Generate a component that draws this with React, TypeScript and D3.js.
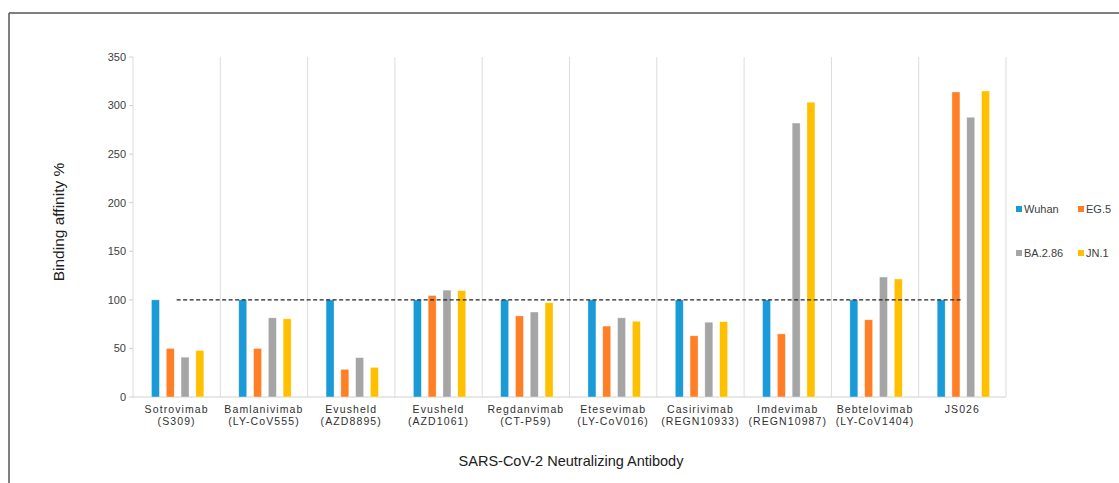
import React from "react";
import * as d3 from "d3";

const categories = [
  ["Sotrovimab", "(S309)"],
  ["Bamlanivimab", "(LY-CoV555)"],
  ["Evusheld", "(AZD8895)"],
  ["Evusheld", "(AZD1061)"],
  ["Regdanvimab", "(CT-P59)"],
  ["Etesevimab", "(LY-CoV016)"],
  ["Casirivimab", "(REGN10933)"],
  ["Imdevimab", "(REGN10987)"],
  ["Bebtelovimab", "(LY-CoV1404)"],
  ["JS026", ""],
];
const seriesNames = ["Wuhan", "EG.5", "BA.2.86", "JN.1"];
const seriesColors = ["#1a9bd7", "#ff7f27", "#a5a5a5", "#ffc000"];
const wuhan = [100, 100, 100, 100, 100, 100, 100, 100, 100, 100];
const eg5 = [50, 50, 28.5, 104.5, 83.5, 73, 63, 65, 79.5, 314];
const ba286 = [41, 81.5, 40.5, 110, 87.5, 81.5, 77, 282, 123.5, 288];
const jn1 = [48, 80.5, 30.5, 109.5, 97, 78, 77.5, 303.5, 121.5, 315];
const yTicks = [0, 50, 100, 150, 200, 250, 300, 350];
const referenceValue = 100;

const W = 1119;
const H = 483;
const left = 133;
const right = 1006;
const top = 57;
const bottom = 397;

export default function App() {
  const series = [wuhan, eg5, ba286, jn1];
  const x = d3.scaleBand<number>().domain(d3.range(categories.length)).range([left, right]).padding(0);
  const inner = d3.scaleBand<number>().domain(d3.range(4)).range([1, x.bandwidth() + 1]).paddingInner(0.46).paddingOuter(1.18);
  const y = d3.scaleLinear().domain([0, 350]).range([bottom, top]);
  const font = "'Liberation Sans', Arial, sans-serif";
  const firstC = x(0)! + x.bandwidth() / 2;
  const lastC = x(categories.length - 1)! + x.bandwidth() / 2;
  return (
    <div style={{ position: "absolute", left: 0, top: 0 }}>
      <svg width={W} height={H} style={{ display: "block", fontFamily: font }}>
        <rect x={0} y={0} width={W} height={H} fill="#fff" />
        <line x1={9} y1={13} x2={W} y2={13} stroke="#555" strokeWidth={1.5} />
        <line x1={9} y1={13} x2={9} y2={H} stroke="#555" strokeWidth={1.5} />
        {d3.range(categories.length + 1).map((i) => {
          const xx = i < categories.length ? x(i)! : right;
          return <line key={i} x1={xx} x2={xx} y1={top} y2={bottom} stroke="#dcdcdc" strokeWidth={1} />;
        })}
        <line x1={left} x2={right} y1={bottom} y2={bottom} stroke="#d0d0d0" />
        {yTicks.map((t) => (
          <g key={t}>
            <line x1={left - 4} x2={left} y1={y(t)} y2={y(t)} stroke="#d0d0d0" />
            <text x={left - 7} y={y(t)} dy="0.35em" textAnchor="end" fontSize={11} fill="#404040">
              {t}
            </text>
          </g>
        ))}
        {categories.map((c, i) =>
          series.map((s, j) => (
            <rect
              key={i + "-" + j}
              x={x(i)! + inner(j)!}
              y={y(s[i])}
              width={inner.bandwidth()}
              height={bottom - y(s[i])}
              fill={seriesColors[j]}
              stroke="#fff"
              strokeOpacity={0.6}
              strokeWidth={0.6}
            />
          ))
        )}
        <line x1={firstC} x2={lastC} y1={y(referenceValue)} y2={y(referenceValue)} stroke="#222" strokeWidth={1.3} strokeDasharray="4,2.5" />
        {categories.map((c, i) => (
          <text key={i} x={x(i)! + x.bandwidth() / 2} textAnchor="middle" fontSize={10.5} fill="#303030" letterSpacing={1.1}>
            <tspan x={x(i)! + x.bandwidth() / 2} y={413}>{c[0]}</tspan>
            <tspan x={x(i)! + x.bandwidth() / 2} y={425}>{c[1]}</tspan>
          </text>
        ))}
        <text transform={`translate(64,222) rotate(-90)`} textAnchor="middle" fontSize={15.5} fill="#202020">
          Binding affinity %
        </text>
        <text x={571} y={466} textAnchor="middle" fontSize={14.5} fill="#202020">
          SARS-CoV-2 Neutralizing Antibody
        </text>
        {seriesNames.map((n, j) => {
          const lx = j % 2 === 0 ? 1016 : 1078;
          const ly = j < 2 ? 209 : 253;
          return (
            <g key={n}>
              <rect x={lx} y={ly - 3} width={6} height={6} fill={seriesColors[j]} />
              <text x={lx + 8} y={ly} dy="0.35em" fontSize={11} fill="#404040">
                {n}
              </text>
            </g>
          );
        })}
      </svg>
    </div>
  );
}
